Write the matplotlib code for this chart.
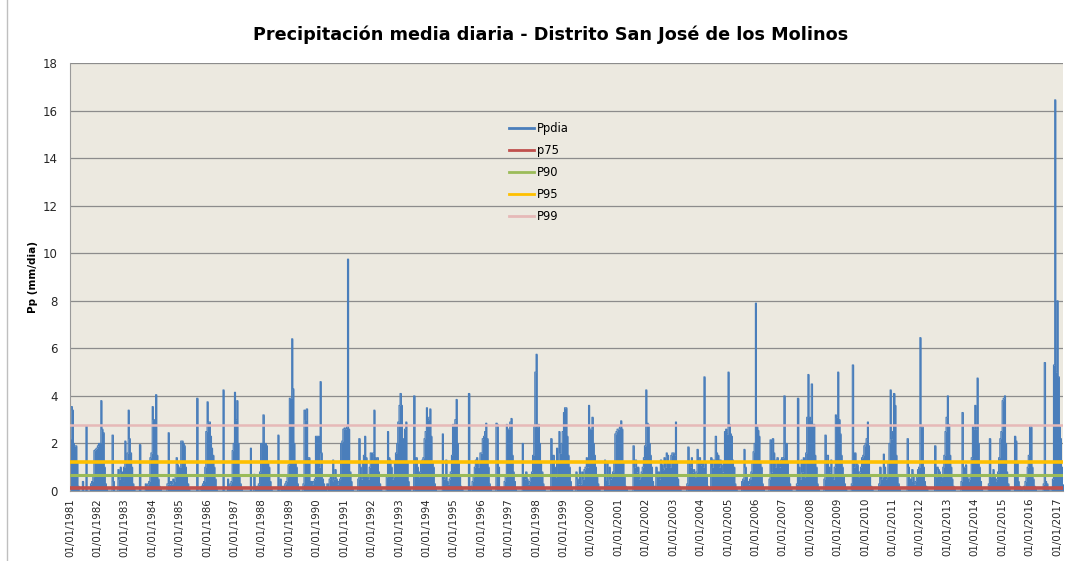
import numpy as np
import pandas as pd
import matplotlib
matplotlib.use("Agg")
import matplotlib.pyplot as plt
import matplotlib.dates as mdates

# Pp media diaria, maximo de cada quincena (1 y 16 de cada mes)
ppdia_1981_1990 = [
    2.2, 3.55, 3.4, 2.0, 1.9, 1.9, 1.2, 0.2, 0, 0, 0, 0.4, 0, 0, 2.75, 0, 0, 0, 0.3, 0.4, 0.6, 1.7, 1.75, 1.8,  # 1981
    1.9, 2.0, 2.0, 3.8, 2.6, 2.45, 1.0, 0.3, 0.1, 0, 0, 0, 0, 2.35, 0.4, 0, 0, 0, 0.9, 0.5, 1.0, 0.8, 0.4, 1.0,  # 1982
    2.1, 1.2, 1.6, 3.4, 2.2, 1.6, 1.0, 0.3, 0.1, 0, 0, 0, 0, 1.95, 0, 0, 0, 0, 0.3, 0.2, 0.3, 0.4, 1.4, 1.6,  # 1983
    3.55, 3.0, 2.8, 4.05, 1.5, 0.5, 0.2, 0.1, 0, 0, 0, 0, 0, 0.3, 2.45, 0.3, 0.4, 0.3, 0.5, 0.4, 0.6, 1.4, 1.1, 1.0,  # 1984
    1.0, 2.1, 2.1, 2.0, 1.9, 1.0, 0.6, 0.3, 0.1, 0, 0, 0, 0, 0, 0, 3.9, 0, 0, 0.1, 0.2, 0.3, 0.4, 1.0, 2.5,  # 1985
    3.75, 2.9, 2.9, 2.3, 1.8, 1.5, 1.0, 0.5, 0.1, 0, 0, 0, 0, 0, 4.25, 0, 0, 0, 0.5, 0.2, 0.3, 0.4, 1.7, 2.0,  # 1986
    4.15, 3.0, 3.8, 2.0, 0.6, 0.3, 0.1, 0, 0, 0, 0, 0, 0, 0, 1.8, 0, 0, 0.7, 0.2, 0.1, 0.2, 0.3, 0.8, 2.0,  # 1987
    2.0, 3.2, 2.0, 2.0, 1.9, 1.2, 1.0, 0.4, 0.1, 0, 0, 0, 0, 0, 2.35, 0, 0.5, 0.2, 0.1, 0.2, 0.3, 0.4, 0.6, 1.1,  # 1988
    3.9, 3.9, 6.4, 4.3, 2.0, 1.2, 1.0, 0.3, 0.1, 0, 0, 0, 0.3, 3.4, 3.0, 3.45, 1.4, 1.4, 0.4, 0.4, 0.3, 0.4, 0.5, 2.3,  # 1989
    2.3, 2.3, 1.0, 4.6, 1.6, 0.5, 0.3, 0.1, 0, 0.3, 0.2, 0.5, 0.6, 0.4, 1.3, 0.5, 0.9, 0.5, 0.3, 0.4, 0.5, 2.0, 2.1, 2.6,  # 1990
]
ppdia_1991_2000 = [
    2.65, 2.6, 2.7, 9.75, 2.6, 0.8, 0.4, 0.1, 0, 0, 0, 0, 0.5, 2.2, 1.0, 0.5, 1.2, 1.5, 2.3, 1.4, 0.6, 0.5, 1.0, 1.6,  # 1991
    1.3, 1.6, 3.4, 1.4, 1.3, 1.4, 0.8, 0.3, 0.1, 0, 0, 0, 0, 0.6, 2.5, 1.4, 1.3, 1.0, 0.5, 0.6, 1.2, 1.6, 2.0, 2.9,  # 1992
    3.6, 4.1, 3.6, 2.2, 2.0, 2.6, 2.9, 1.2, 0.4, 0.1, 0, 0, 0, 4.0, 1.2, 1.4, 1.0, 0.6, 0.8, 1.2, 1.3, 1.4, 2.2, 2.5,  # 1993
    3.5, 3.0, 3.1, 3.45, 2.3, 1.2, 1.0, 0.3, 0.1, 0, 0, 0, 0, 0, 2.4, 0.5, 0.6, 1.3, 0.4, 0.3, 0.5, 0.8, 1.5, 2.8,  # 1994
    2.8, 3.0, 3.85, 2.0, 1.2, 0.6, 0.2, 0.1, 0, 0, 0, 0, 0, 4.1, 0, 0.2, 0.4, 0.6, 1.0, 1.3, 1.4, 1.0, 1.2, 1.6,  # 1995
    1.6, 2.2, 2.3, 2.5, 2.85, 2.2, 1.0, 0.3, 0.1, 0, 0, 0, 0, 2.85, 2.8, 1.0, 0.1, 0.1, 0.1, 0.1, 0.4, 0.6, 2.8, 2.6,  # 1996
    2.6, 2.9, 3.05, 1.5, 0.8, 0.4, 0.1, 0, 0, 0, 0, 0, 2.0, 0.6, 0.5, 0.8, 0.5, 0.3, 0.4, 0.6, 0.8, 1.5, 2.7, 5.0,  # 1997
    5.75, 2.7, 2.8, 2.0, 1.2, 0.8, 0.3, 0.1, 0, 0, 0, 0, 0, 2.2, 1.2, 1.5, 1.0, 0.6, 1.8, 1.2, 2.5, 1.6, 2.0, 2.5,  # 1998
    3.3, 3.5, 3.5, 2.3, 1.5, 1.0, 0.4, 0.1, 0, 0, 0, 0.8, 0.5, 0.3, 1.0, 0.3, 0.8, 0.5, 0.9, 1.0, 1.4, 1.0, 3.6, 2.6,  # 1999
    2.6, 3.1, 2.0, 1.5, 1.0, 0.6, 0.3, 0.1, 0, 0, 0, 0, 1.3, 0.4, 1.2, 0.3, 1.0, 0.5, 0.6, 0.8, 1.2, 2.4, 2.5, 2.6,  # 2000
]
ppdia_2001_2010 = [
    2.6, 2.7, 2.95, 2.6, 1.2, 0.6, 0.2, 0.1, 0, 0, 0, 0, 0, 1.9, 1.0, 1.3, 0.8, 1.0, 0.5, 0.6, 0.8, 1.0, 1.4, 1.9,  # 2001
    4.25, 2.85, 2.8, 2.0, 1.5, 1.0, 0.4, 0.2, 0.1, 1.0, 0.6, 0.8, 0.5, 1.3, 1.1, 0.9, 1.4, 1.0, 1.6, 1.5, 1.2, 1.0, 1.5, 1.6,  # 2002
    1.6, 1.5, 2.9, 1.2, 0.5, 0.2, 0.1, 0, 0, 0, 0, 0, 0.3, 1.85, 1.2, 1.0, 1.4, 0.8, 0.9, 0.6, 0.8, 1.75, 1.2, 1.4,  # 2003
    1.1, 1.2, 1.0, 4.8, 1.2, 0.6, 0.2, 0.1, 0, 1.4, 1.0, 1.3, 1.2, 2.3, 1.6, 1.5, 1.0, 1.3, 1.1, 0.8, 1.2, 2.5, 2.6, 2.4,  # 2004
    5.0, 2.8, 2.4, 2.3, 1.3, 1.0, 0.3, 0.1, 0, 0, 0, 0, 0.4, 0.5, 1.75, 1.0, 0.6, 0.4, 0.3, 0.5, 0.8, 1.2, 1.65, 2.0,  # 2005
    7.9, 2.7, 2.55, 2.3, 1.2, 1.0, 0.3, 0.1, 0, 0, 0, 0, 0.5, 2.15, 0.8, 2.2, 1.6, 1.0, 1.3, 1.4, 1.2, 1.0, 1.3, 1.4,  # 2006
    1.4, 4.0, 2.0, 2.0, 1.2, 0.6, 0.3, 0.1, 0, 0, 0, 0, 0.3, 3.9, 1.0, 0.5, 1.3, 0.8, 1.4, 0.6, 1.6, 3.1, 4.9, 3.1,  # 2007
    3.0, 4.5, 2.8, 2.8, 1.5, 1.0, 0.3, 0.1, 0, 0, 0, 0, 0.5, 2.35, 1.3, 1.5, 1.0, 0.8, 1.3, 0.6, 0.5, 1.0, 3.2, 3.1,  # 2008
    5.0, 3.0, 2.4, 1.5, 1.0, 0.6, 0.3, 0.1, 0, 0, 0, 0, 0.3, 5.3, 1.0, 1.6, 1.2, 1.1, 0.6, 0.8, 1.0, 1.4, 1.5, 1.9,  # 2009
    2.0, 2.2, 2.9, 1.9, 0.6, 0.2, 0.1, 0, 0, 0, 0, 0, 0.3, 1.0, 0.5, 0.6, 1.55, 1.0, 0.5, 0.6, 1.2, 2.0, 4.25, 2.2,  # 2010
]
ppdia_2011_2017 = [
    2.5, 4.1, 3.6, 1.5, 0.6, 0.3, 0.1, 0, 0, 0, 0, 0, 0, 2.2, 1.0, 0.5, 0.4, 0.9, 0.7, 0.3, 0.4, 0.6, 0.9, 1.0,  # 2011
    6.45, 2.7, 2.7, 1.0, 0.4, 0.2, 0.1, 0, 0, 0, 0, 0, 0, 1.9, 0.6, 1.0, 0.9, 0.8, 0.4, 0.6, 1.0, 1.5, 2.5, 3.1,  # 2012
    4.0, 2.8, 1.5, 1.0, 0.5, 0.2, 0.1, 0, 0, 0, 0, 0, 0.4, 3.3, 1.0, 1.0, 1.1, 0.6, 0.4, 0.5, 0.7, 1.4, 2.7, 2.6,  # 2013
    3.6, 2.6, 4.75, 2.0, 1.0, 0.4, 0.1, 0, 0, 0, 0, 0, 0.3, 2.2, 0.6, 0.7, 0.9, 0.6, 0.4, 0.5, 0.8, 1.4, 2.2, 2.5,  # 2014
    3.8, 3.9, 4.0, 2.0, 0.8, 0.3, 0.1, 0, 0, 0, 0, 2.3, 2.1, 1.2, 0.4, 0.2, 0.1, 0, 0.1, 0.2, 0.4, 0.6, 1.0, 1.5,  # 2015
    2.7, 2.7, 1.0, 0.5, 0.2, 0.1, 0, 0, 0, 0, 0, 0, 0.3, 5.4, 0.4, 0.3, 0.1, 0, 0, 0.1, 0.5, 5.3, 16.45, 5.0,  # 2016
    8.0, 4.8, 2.7, 2.2, 1.0, 0.3,  # 2017
]

# percentiles de la serie diaria
p75 = 0.14
p90 = 0.67
p95 = 1.23
p99 = 2.76

anios = list(range(1981, 2018))

ppdia = np.array(ppdia_1981_1990 + ppdia_1991_2000 + ppdia_2001_2010 + ppdia_2011_2017)
fechas = pd.date_range("1981-01-01", periods=len(ppdia) + 1, freq="SMS")
x = mdates.date2num(fechas)
y = np.append(ppdia, ppdia[-1])

fig = plt.figure(figsize=(10.82, 5.61), dpi=100)
ax = fig.add_axes([70 / 1082, 1 - 491 / 561, 993 / 1082, 428 / 561])
ax.set_facecolor("#ECE9E0")

azul = "#4A7EBB"
ax.fill_between(x, 0, y, step="post", color=azul, lw=0, zorder=2)
ax.plot(x, y, drawstyle="steps-post", color=azul, lw=0.8, label="Ppdia", zorder=2)
ax.axhline(p75, color="#C0504D", lw=2.6, label="p75", zorder=3)
ax.axhline(p90, color="#9BBB59", lw=2.2, label="P90", zorder=3)
ax.axhline(p95, color="#FFC000", lw=2.6, label="P95", zorder=3)
ax.axhline(p99, color="#E6B9B8", lw=1.8, label="P99", zorder=3)

ax.set_ylim(0, 18)
ax.set_yticks(range(0, 19, 2))
ax.set_xlim(x[0], mdates.date2num(pd.Timestamp("2017-03-22")))
ax.set_xticks(mdates.date2num([pd.Timestamp(f"{a}-01-01") for a in anios]))
ax.set_xticklabels([f"01/01/{a}" for a in anios], rotation=90, fontsize=7.4, color="#262626")
ax.tick_params(axis="x", length=0, pad=5)
ax.tick_params(axis="y", length=0, pad=9, labelsize=8.5, labelcolor="#262626")
ax.yaxis.grid(True, color="#8C8C8C", lw=0.9)
ax.set_axisbelow(True)
for s in ["top", "right"]:
    ax.spines[s].set_visible(False)
ax.spines["left"].set_color("#9A9A9A")
ax.spines["bottom"].set_color("#9A9A9A")

leg = ax.legend(loc="upper left", bbox_to_anchor=(0.436, 0.876), frameon=False,
                fontsize=8.3, handlelength=2.2, handletextpad=0.25, labelspacing=0.78,
                borderpad=0)
for linea in leg.get_lines():
    linea.set_linewidth(2)

fig.text(551 / 1082, 1 - 35 / 561, "Precipitación media diaria - Distrito San José de los Molinos",
         ha="center", va="center", fontsize=12.7, fontweight="bold", color="black")
fig.text(33 / 1082, 1 - 277 / 561, "Pp (mm/dia)", rotation=90, ha="center", va="center",
         fontsize=7.5, fontweight="bold")

# borde del grafico
fig.add_artist(plt.Line2D([7 / 1082, 7 / 1082], [0, 1], color="#BFBFBF", lw=1))

fig.savefig("out.png", dpi=100)
